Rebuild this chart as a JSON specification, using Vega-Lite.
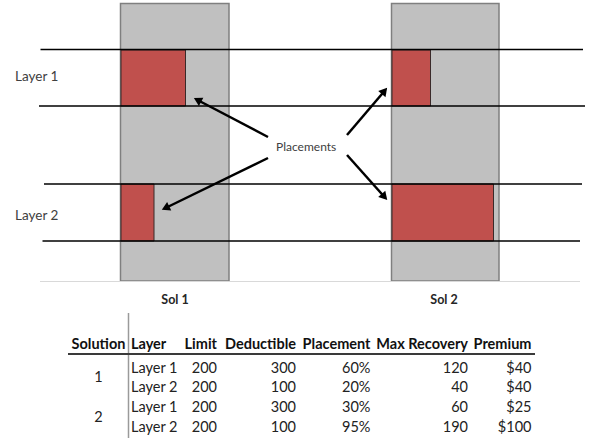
{
  "$schema": "https://vega.github.io/schema/vega-lite/v6.json",
  "width": 597,
  "height": 443,
  "autosize": {"type": "fit", "contains": "padding"},
  "padding": 0,
  "background": "white",
  "config": {"view": {"stroke": null}, "text": {"font": "Lato"}},
  "datasets": {
    "columns": [
      {"sol": "Sol 1", "x0": 120.5, "x1": 229, "y0": 3.5, "y1": 281},
      {"sol": "Sol 2", "x0": 391.5, "x1": 499, "y0": 3.5, "y1": 281}
    ],
    "placements": [
      {"sol": "Sol 1", "layer": "Layer 1", "x0": 121, "x1": 185.5, "y0": 50, "y1": 106},
      {"sol": "Sol 1", "layer": "Layer 2", "x0": 121, "x1": 154, "y0": 184, "y1": 241},
      {"sol": "Sol 2", "layer": "Layer 1", "x0": 392, "x1": 430.5, "y0": 50, "y1": 106},
      {"sol": "Sol 2", "layer": "Layer 2", "x0": 392, "x1": 493.5, "y0": 184, "y1": 241}
    ],
    "layerLines": [
      {"edge": "Layer 1 top", "y": 49.5, "x0": 40.5, "x1": 583},
      {"edge": "Layer 1 bottom", "y": 106, "x0": 39, "x1": 585},
      {"edge": "Layer 2 top", "y": 184, "x0": 44, "x1": 582},
      {"edge": "Layer 2 bottom", "y": 241, "x0": 42.5, "x1": 580}
    ],
    "baseLine": [{"y": 281.5, "x0": 40, "x1": 580}],
    "arrows": [
      {"id": 1, "x0": 268, "y0": 137, "x1": 197.5, "y1": 100, "angle": 298},
      {"id": 2, "x0": 268, "y0": 158, "x1": 165.5, "y1": 208, "angle": 244},
      {"id": 3, "x0": 347, "y0": 135, "x1": 384.5, "y1": 91, "angle": 40},
      {"id": 4, "x0": 347, "y0": 155, "x1": 384.5, "y1": 197, "angle": 138}
    ],
    "layerLabels": [
      {"label": "Layer 1", "x": 15, "y": 77},
      {"label": "Layer 2", "x": 15, "y": 216}
    ],
    "callout": [{"label": "Placements", "x": 276, "y": 147}],
    "solLabels": [
      {"label": "Sol 1", "x": 175, "y": 300},
      {"label": "Sol 2", "x": 444, "y": 300}
    ],
    "tableLines": [
      {"part": "divider", "x0": 128.5, "x1": 128.5, "y0": 313, "y1": 438},
      {"part": "header rule", "x0": 68, "x1": 535, "y0": 354, "y1": 354}
    ],
    "cells": [
      {"r": 0, "c": 0, "t": "Solution"}, {"r": 0, "c": 1, "t": "Layer"}, {"r": 0, "c": 2, "t": "Limit"},
      {"r": 0, "c": 3, "t": "Deductible"}, {"r": 0, "c": 4, "t": "Placement"}, {"r": 0, "c": 5, "t": "Max Recovery"},
      {"r": 0, "c": 6, "t": "Premium"},
      {"r": 1.5, "c": 0, "t": "1"}, {"r": 3.5, "c": 0, "t": "2"},
      {"r": 1, "c": 1, "t": "Layer 1"}, {"r": 1, "c": 2, "t": "200"}, {"r": 1, "c": 3, "t": "300"}, {"r": 1, "c": 4, "t": "60%"}, {"r": 1, "c": 5, "t": "120"}, {"r": 1, "c": 6, "t": "$40"},
      {"r": 2, "c": 1, "t": "Layer 2"}, {"r": 2, "c": 2, "t": "200"}, {"r": 2, "c": 3, "t": "100"}, {"r": 2, "c": 4, "t": "20%"}, {"r": 2, "c": 5, "t": "40"}, {"r": 2, "c": 6, "t": "$40"},
      {"r": 3, "c": 1, "t": "Layer 1"}, {"r": 3, "c": 2, "t": "200"}, {"r": 3, "c": 3, "t": "300"}, {"r": 3, "c": 4, "t": "30%"}, {"r": 3, "c": 5, "t": "60"}, {"r": 3, "c": 6, "t": "$25"},
      {"r": 4, "c": 1, "t": "Layer 2"}, {"r": 4, "c": 2, "t": "200"}, {"r": 4, "c": 3, "t": "100"}, {"r": 4, "c": 4, "t": "95%"}, {"r": 4, "c": 5, "t": "190"}, {"r": 4, "c": 6, "t": "$100"}
    ]
  },
  "layer": [
    {
      "layer": [
        {
          "data": {"name": "columns"},
          "mark": {"type": "rect", "fill": "#c0c0c0", "stroke": "#7f7f7f", "strokeWidth": 1.5},
          "encoding": {
            "x": {"field": "x0", "type": "quantitative", "scale": {"domain": [0, 597], "nice": false, "zero": false}, "axis": null},
            "x2": {"field": "x1"},
            "y": {"field": "y0", "type": "quantitative", "scale": {"domain": [0, 443], "nice": false, "zero": false, "reverse": true}, "axis": null},
            "y2": {"field": "y1"}
          }
        },
        {
          "data": {"name": "placements"},
          "mark": {"type": "rect", "fill": "#c0504d", "stroke": "#3a2a2a", "strokeWidth": 1},
          "encoding": {
            "x": {"field": "x0", "type": "quantitative", "axis": null},
            "x2": {"field": "x1"},
            "y": {"field": "y0", "type": "quantitative", "axis": null},
            "y2": {"field": "y1"}
          }
        },
        {
          "data": {"name": "layerLines"},
          "mark": {"type": "rule", "color": "#000000", "strokeWidth": 1.5},
          "encoding": {
            "x": {"field": "x0", "type": "quantitative", "axis": null},
            "x2": {"field": "x1"},
            "y": {"field": "y", "type": "quantitative", "axis": null}
          }
        },
        {
          "data": {"name": "baseLine"},
          "mark": {"type": "rule", "color": "#d9d9d9", "strokeWidth": 1},
          "encoding": {
            "x": {"field": "x0", "type": "quantitative", "axis": null},
            "x2": {"field": "x1"},
            "y": {"field": "y", "type": "quantitative", "axis": null}
          }
        },
        {
          "data": {"name": "tableLines"},
          "mark": {"type": "rule", "color": "#9a9a9a", "strokeWidth": 1.5},
          "transform": [{"filter": "datum.part == 'divider'"}],
          "encoding": {
            "x": {"field": "x0", "type": "quantitative", "axis": null},
            "x2": {"field": "x1"},
            "y": {"field": "y0", "type": "quantitative", "axis": null},
            "y2": {"field": "y1"}
          }
        },
        {
          "data": {"name": "tableLines"},
          "mark": {"type": "rule", "color": "#3a3a3a", "strokeWidth": 2},
          "transform": [{"filter": "datum.part == 'header rule'"}],
          "encoding": {
            "x": {"field": "x0", "type": "quantitative", "axis": null},
            "x2": {"field": "x1"},
            "y": {"field": "y0", "type": "quantitative", "axis": null},
            "y2": {"field": "y1"}
          }
        },
        {
          "data": {"name": "arrows"},
          "mark": {"type": "rule", "color": "#000000", "strokeWidth": 2.5},
          "encoding": {
            "x": {"field": "x0", "type": "quantitative", "axis": null},
            "x2": {"field": "x1"},
            "y": {"field": "y0", "type": "quantitative", "axis": null},
            "y2": {"field": "y1"}
          }
        },
        {
          "data": {"name": "arrows"},
          "mark": {"type": "point", "shape": "triangle-up", "filled": true, "color": "#000000", "size": 90, "opacity": 1},
          "encoding": {
            "x": {"field": "x1", "type": "quantitative", "axis": null},
            "y": {"field": "y1", "type": "quantitative", "axis": null},
            "angle": {"field": "angle", "type": "quantitative", "scale": null}
          }
        },
        {
          "data": {"name": "layerLabels"},
          "mark": {"type": "text", "align": "left", "baseline": "middle", "fontSize": 13.5, "color": "#404040"},
          "encoding": {
            "x": {"field": "x", "type": "quantitative", "axis": null},
            "y": {"field": "y", "type": "quantitative", "axis": null},
            "text": {"field": "label"}
          }
        },
        {
          "data": {"name": "callout"},
          "mark": {"type": "text", "align": "left", "baseline": "middle", "fontSize": 12, "color": "#404040"},
          "encoding": {
            "x": {"field": "x", "type": "quantitative", "axis": null},
            "y": {"field": "y", "type": "quantitative", "axis": null},
            "text": {"field": "label"}
          }
        },
        {
          "data": {"name": "solLabels"},
          "mark": {"type": "text", "align": "center", "baseline": "middle", "fontSize": 12.5, "fontWeight": "bold", "color": "#262626"},
          "encoding": {
            "x": {"field": "x", "type": "quantitative", "axis": null},
            "y": {"field": "y", "type": "quantitative", "axis": null},
            "text": {"field": "label"}
          }
        }
      ]
    },
    {
      "data": {"name": "cells"},
      "encoding": {
        "x": {"field": "c", "type": "quantitative", "axis": null,
              "scale": {"domain": [0, 1, 2, 3, 4, 5, 6], "range": [98.5, 131, 217, 296, 370.5, 468, 531.5], "nice": false, "zero": false}},
        "y": {"field": "r", "type": "quantitative", "axis": null,
              "scale": {"domain": [0, 1, 4], "range": [345, 368.5, 428], "nice": false, "zero": false}},
        "text": {"field": "t"}
      },
      "layer": [
        {"transform": [{"filter": "datum.r == 0 && datum.c == 0"}],
         "mark": {"type": "text", "align": "center", "baseline": "middle", "fontSize": 14.5, "fontWeight": "bold", "color": "#111111"}},
        {"transform": [{"filter": "datum.r == 0 && datum.c == 1"}],
         "mark": {"type": "text", "align": "left", "baseline": "middle", "fontSize": 14.5, "fontWeight": "bold", "color": "#111111"}},
        {"transform": [{"filter": "datum.r == 0 && datum.c >= 2"}],
         "mark": {"type": "text", "align": "right", "baseline": "middle", "fontSize": 14.5, "fontWeight": "bold", "color": "#111111"}},
        {"transform": [{"filter": "datum.r > 0 && datum.c == 0"}],
         "mark": {"type": "text", "align": "center", "baseline": "middle", "fontSize": 14.5, "color": "#222222"}},
        {"transform": [{"filter": "datum.r > 0 && datum.c == 1"}],
         "mark": {"type": "text", "align": "left", "baseline": "middle", "fontSize": 14.5, "color": "#222222"}},
        {"transform": [{"filter": "datum.r > 0 && datum.c >= 2"}],
         "mark": {"type": "text", "align": "right", "baseline": "middle", "fontSize": 14.5, "color": "#222222"}}
      ]
    }
  ],
  "resolve": {"scale": {"x": "independent", "y": "independent"}}
}
